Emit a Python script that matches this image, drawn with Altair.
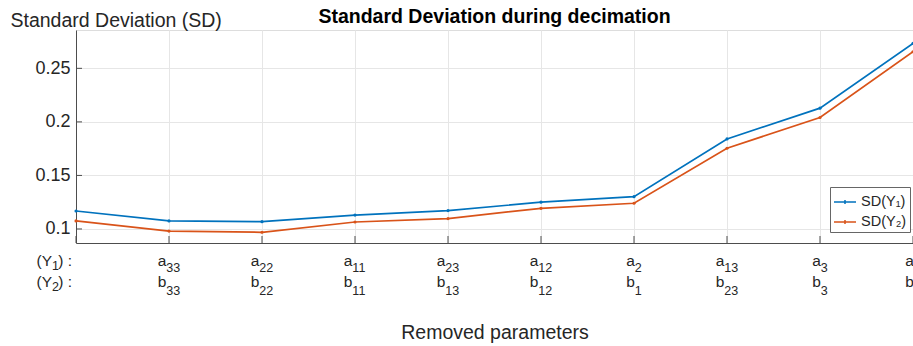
import altair as alt
import pandas as pd

# Decimation step (0 = full model, then one parameter removed per step)
step = [0, 1, 2, 3, 4, 5, 6, 7, 8, 9]

# Standard deviation of both outputs after each removal
sd_y1 = [0.1168, 0.1075, 0.1068, 0.1130, 0.1172, 0.1250, 0.1302, 0.1841, 0.2128, 0.2733]
sd_y2 = [0.1075, 0.0980, 0.0969, 0.1065, 0.1097, 0.1193, 0.1240, 0.1754, 0.2041, 0.2655]

series_names = ["SD(Y\u2081)", "SD(Y\u2082)"]

# Subscripts of the removed parameters a_ij (for Y1) and b_ij (for Y2)
a_params = ["", "33", "22", "11", "23", "12", "2", "13", "3", "1"]
b_params = ["", "33", "22", "11", "13", "12", "1", "23", "3", "2"]

y_ticks = [0.1, 0.15, 0.2, 0.25]

chart_title = "Standard Deviation during decimation"

BLUE = "#0072BD"
RED = "#D95319"
FONT = "Liberation Sans"
TEXT = "#262626"
AXIS = "#4d4d4d"
GRID = "#e6e6e6"
W, H = 837, 213

x_scale = alt.Scale(domain=[0, 9], nice=False)
y_scale = alt.Scale(domain=[0.0869, 0.2858], nice=False, zero=False)

df = pd.DataFrame({
    "step": step * 2,
    "sd": sd_y1 + sd_y2,
    "series": [series_names[0]] * len(step) + [series_names[1]] * len(step),
})
labels = pd.DataFrame({"step": step, "a": a_params, "b": b_params})
labels = labels[labels["step"] > 0]
ticks_y = pd.DataFrame({"v": y_ticks})
ticks_x = pd.DataFrame({"step": step})
one_row = pd.DataFrame({"t": [chart_title]})

x_enc = alt.X(
    "step:Q",
    scale=x_scale,
    axis=alt.Axis(
        values=step, labels=False, ticks=False, grid=True, gridColor=GRID,
        domainColor=AXIS, domainWidth=1,
        title="Removed parameters", titleFont=FONT, titleFontSize=19.5,
        titleFontWeight="normal", titleColor=TEXT, titleY=95,
        titleBaseline="alphabetic",
    ),
)
y_enc = alt.Y(
    "sd:Q",
    scale=y_scale,
    axis=alt.Axis(
        values=y_ticks, format=".2~f", labelFont=FONT, labelFontSize=18,
        labelColor=TEXT, labelPadding=6, ticks=False, grid=True, gridColor=GRID,
        domainColor=AXIS, domainWidth=1,
        title="Standard Deviation (SD)", titleAngle=0, titleX=-66, titleY=-4,
        titleAlign="left", titleBaseline="alphabetic", titleFont=FONT,
        titleFontSize=19.5, titleFontWeight="normal", titleColor=TEXT,
    ),
)

legend = alt.Legend(
    title=None, orient="none", legendX=754, legendY=157, direction="vertical",
    fillColor="white", strokeColor="#666666", padding=3, rowPadding=1,
    labelFont=FONT, labelFontSize=14.5, labelColor=TEXT, labelOffset=4,
    symbolType="M-1,0H1M0,-0.18V0.18", symbolSize=484, symbolStrokeWidth=1.5,
    cornerRadius=0,
)

lines = alt.Chart(df).mark_line(strokeWidth=1.7).encode(
    x=x_enc, y=y_enc,
    color=alt.Color("series:N", scale=alt.Scale(domain=series_names, range=[BLUE, RED]), legend=legend),
)
points = alt.Chart(df).mark_point(filled=True, size=10, opacity=1).encode(
    x=alt.X("step:Q", scale=x_scale),
    y=alt.Y("sd:Q", scale=y_scale),
    fill=alt.Fill("series:N", scale=alt.Scale(domain=series_names, range=[BLUE, RED]), legend=None),
)

# inward tick marks on both axes
ytick_marks = alt.Chart(ticks_y).mark_rule(color=AXIS, strokeWidth=1).encode(
    y=alt.Y("v:Q", scale=y_scale), x=alt.value(0), x2=alt.value(6)
)
xtick_marks = alt.Chart(ticks_x).mark_rule(color=AXIS, strokeWidth=1).encode(
    x=alt.X("step:Q", scale=x_scale), y=alt.value(H - 7), y2=alt.value(H)
)

# two-row tick labels: letter plus lowered subscript
BASE_FS, SUB_FS = 15.5, 12.5
label_layers = []
for col, letter, y_base, y_sub in [("a", "a", 236, 242), ("b", "b", 257, 265)]:
    for ndig in (1, 2):
        dx = (0.556 * BASE_FS - 0.556 * SUB_FS * ndig) / 2
        filt = f"length(datum.{col}) == {ndig}"
        base = alt.Chart(labels).mark_text(
            align="right", baseline="alphabetic", dx=dx, font=FONT,
            fontSize=BASE_FS, color=TEXT,
        ).encode(
            x=alt.X("step:Q", scale=x_scale), y=alt.value(y_base), text=alt.value(letter)
        ).transform_filter(filt)
        sub = alt.Chart(labels).mark_text(
            align="left", baseline="alphabetic", dx=dx, font=FONT,
            fontSize=SUB_FS, color=TEXT,
        ).encode(
            x=alt.X("step:Q", scale=x_scale), y=alt.value(y_sub), text=alt.Text(f"{col}:N")
        ).transform_filter(filt)
        label_layers += [base, sub]

# row headers "(Y1) :" and "(Y2) :"
row_layers = []
for num, y_base, y_sub in [("1", 236, 240), ("2", 257, 261)]:
    row_layers.append(alt.Chart(one_row).mark_text(
        align="right", baseline="alphabetic", font=FONT, fontSize=BASE_FS, color=TEXT
    ).encode(x=alt.value(-4), y=alt.value(y_base), text=alt.value(") :")))
    row_layers.append(alt.Chart(one_row).mark_text(
        align="right", baseline="alphabetic", font=FONT, fontSize=SUB_FS, color=TEXT
    ).encode(x=alt.value(-17), y=alt.value(y_sub), text=alt.value(num)))
    row_layers.append(alt.Chart(one_row).mark_text(
        align="right", baseline="alphabetic", font=FONT, fontSize=BASE_FS, color=TEXT
    ).encode(x=alt.value(-24), y=alt.value(y_base), text=alt.value("(Y")))

# bold heading centred over the plot
heading = alt.Chart(one_row).mark_text(
    align="center", baseline="alphabetic", font=FONT, fontSize=19.5,
    fontWeight="bold", color="#000000",
).encode(x=alt.value(W / 2), y=alt.value(-7), text="t:N")

chart = alt.layer(
    lines, points, ytick_marks, xtick_marks, *label_layers, *row_layers, heading
).properties(
    width=W, height=H,
    autosize=alt.AutoSizeParams(type="none"),
    padding={"left": 76, "top": 30, "right": 0, "bottom": 103},
).resolve_scale(color="independent").configure_view(stroke=None).configure(background="white")

chart.save("out.html", embed_options={"renderer": "svg", "actions": False})
